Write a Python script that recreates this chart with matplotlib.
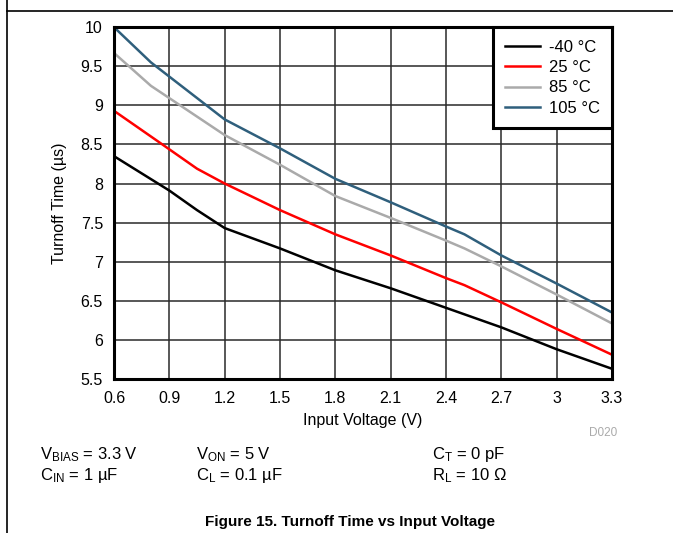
import matplotlib
matplotlib.use("Agg")
import matplotlib.pyplot as plt
from matplotlib.lines import Line2D

plt.rcParams['font.family'] = ['Liberation Sans', 'DejaVu Sans']
plt.rcParams['mathtext.fontset'] = 'custom'
plt.rcParams['mathtext.rm'] = 'Liberation Sans'
plt.rcParams['mathtext.it'] = 'Liberation Sans'

# Datos (V, us)
v_m40 = [0.6, 0.9, 1.05, 1.2, 1.5, 1.8, 2.1, 2.4, 2.7, 3.0, 3.3]
t_m40 = [8.35, 7.91, 7.66, 7.43, 7.17, 6.89, 6.66, 6.41, 6.16, 5.88, 5.63]

v_25 = [0.6, 0.85, 1.05, 1.2, 1.5, 1.8, 2.1, 2.4, 2.5, 2.7, 3.0, 3.3]
t_25 = [8.93, 8.52, 8.19, 8.0, 7.66, 7.35, 7.08, 6.79, 6.70, 6.48, 6.14, 5.81]

v_85 = [0.6, 0.8, 1.2, 1.5, 1.8, 2.1, 2.4, 2.5, 2.7, 3.0, 3.3]
t_85 = [9.67, 9.25, 8.62, 8.24, 7.84, 7.56, 7.27, 7.17, 6.94, 6.58, 6.21]

v_105 = [0.6, 0.8, 1.2, 1.5, 1.8, 2.1, 2.4, 2.5, 2.7, 3.0, 3.3]
t_105 = [10.0, 9.55, 8.82, 8.45, 8.06, 7.76, 7.45, 7.35, 7.08, 6.72, 6.35]

labels = ['-40 °C', '25 °C', '85 °C', '105 °C']
colors = ['#000000', '#ff0000', '#aaaaaa', '#2f5f7c']

x_ticks = [0.6, 0.9, 1.2, 1.5, 1.8, 2.1, 2.4, 2.7, 3.0, 3.3]
y_ticks = [5.5, 6, 6.5, 7, 7.5, 8, 8.5, 9, 9.5, 10]

fig = plt.figure(figsize=(6.73, 5.33), dpi=100)
ax = fig.add_axes([0.1694, 0.289, 0.740, 0.660])

series = [(v_m40, t_m40), (v_25, t_25), (v_85, t_85), (v_105, t_105)]
for (v, t), lab, c in zip(series, labels, colors):
    ax.plot(v, t, color=c, lw=1.8, label=lab, zorder=3)

ax.set_xlim(0.6, 3.3)
ax.set_ylim(5.5, 10)
ax.set_xticks(x_ticks)
ax.set_xticklabels(['%g' % x for x in x_ticks])
ax.set_yticks(y_ticks)
ax.set_yticklabels(['%g' % y for y in y_ticks])
ax.tick_params(length=0, labelsize=11.5)
ax.tick_params(axis='x', pad=9)
ax.tick_params(axis='y', pad=8)
ax.grid(True, color='#2a2a2a', lw=1.1)
for s in ax.spines.values():
    s.set_linewidth(2.2)
    s.set_zorder(5)

ax.set_xlabel('Input Voltage (V)', fontsize=11.5, labelpad=5)
ax.set_ylabel('Turnoff Time (µs)', fontsize=11.5, labelpad=10)

leg = ax.legend(loc='upper right', borderaxespad=0, fontsize=12,
                fancybox=False, framealpha=1, edgecolor='black',
                handlelength=2.1, handletextpad=0.5, labelspacing=0.32,
                borderpad=0.75)
leg.get_frame().set_linewidth(2.2)
leg.set_zorder(6)

fig.text(0.917, 0.182, 'D020', fontsize=8.5, color='#aaaaaa', ha='right')

# condiciones de prueba
fs = 12
fig.text(0.059, 0.138, r'V$_{\mathrm{BIAS}}$ = 3.3 V', fontsize=fs)
fig.text(0.059, 0.099, r'C$_{\mathrm{IN}}$ = 1 µF', fontsize=fs)
fig.text(0.291, 0.138, r'V$_{\mathrm{ON}}$ = 5 V', fontsize=fs)
fig.text(0.291, 0.099, r'C$_{\mathrm{L}}$ = 0.1 µF', fontsize=fs)
fig.text(0.642, 0.138, r'C$_{\mathrm{T}}$ = 0 pF', fontsize=fs)
fig.text(0.642, 0.099, r'R$_{\mathrm{L}}$ = 10 Ω', fontsize=fs)

fig.text(0.52, 0.013, 'Figure 15. Turnoff Time vs Input Voltage',
         fontsize=11, fontweight='bold', ha='center')

# marco de la hoja de datos
fig.add_artist(Line2D([0.0104, 0.0104], [0, 1], color='black', lw=1.2,
                      transform=fig.transFigure))
fig.add_artist(Line2D([0.0104, 1], [0.979, 0.979], color='black', lw=1.2,
                      transform=fig.transFigure))

fig.savefig('out.png', dpi=100)
